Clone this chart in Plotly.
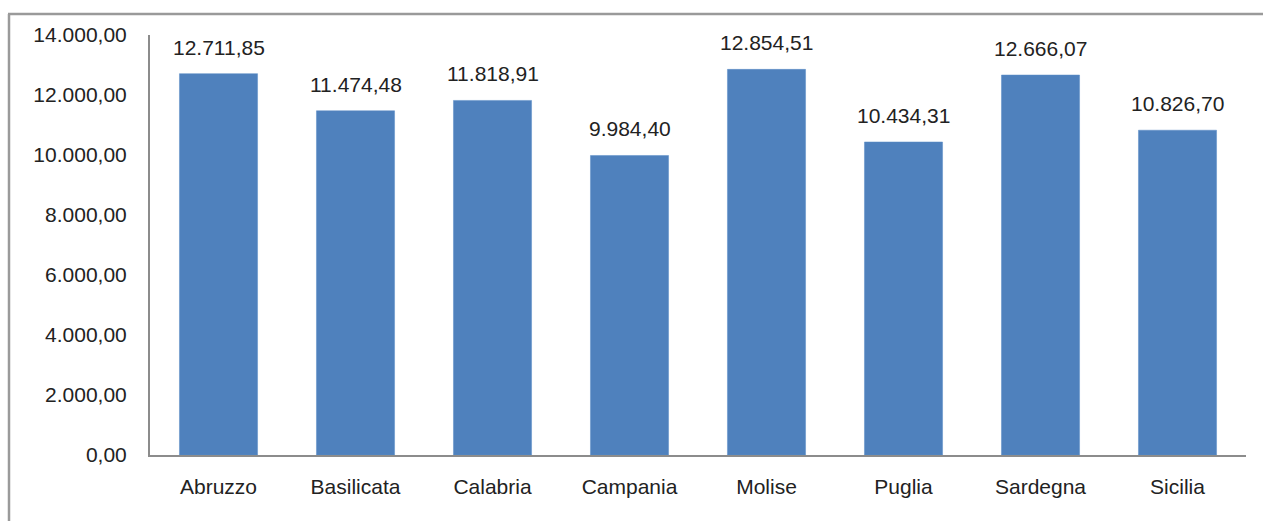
import plotly.graph_objects as go

regions = ["Abruzzo", "Basilicata", "Calabria", "Campania", "Molise", "Puglia", "Sardegna", "Sicilia"]
values = [12711.85, 11474.48, 11818.91, 9984.40, 12854.51, 10434.31, 12666.07, 10826.70]
y_ticks = [0, 2000, 4000, 6000, 8000, 10000, 12000, 14000]

FONT = "Liberation Sans"
SIZE = 21
TEXT = "#222222"
AXIS = "#8c8c8c"


def it_fmt(v):
    # Italian number style: dot for thousands, comma for decimals
    s = f"{v:,.2f}"
    return s.replace(",", "X").replace(".", ",").replace("X", ".")


fig = go.Figure(
    go.Bar(
        x=regions,
        y=values,
        marker=dict(color="#4F81BD", line=dict(color="#5b8cc6", width=0.5)),
        hoverinfo="x+y",
    )
)

for r, v in zip(regions, values):
    fig.add_annotation(
        x=r, y=v, text=it_fmt(v), showarrow=False,
        yanchor="bottom", yshift=13,
        font=dict(family=FONT, size=SIZE, color=TEXT),
    )

W, H = 1263, 521
ml, mr, mt, mb = 150, 17, 35, 66
pw, ph = W - ml - mr, H - mt - mb


def px_x(x):
    return (x - ml) / pw


def px_y(y):
    return (H - mb - y) / ph


fig.update_layout(
    width=W,
    height=H,
    margin=dict(l=ml, r=mr, t=mt, b=mb, pad=0),
    paper_bgcolor="white",
    plot_bgcolor="white",
    separators=",.",
    bargap=0.43,
    showlegend=False,
    font=dict(family=FONT, size=SIZE, color=TEXT),
    xaxis=dict(
        showline=True,
        linecolor=AXIS,
        linewidth=2,
        showgrid=False,
        ticks="",
        ticklabelstandoff=12,
        tickfont=dict(family=FONT, size=SIZE, color=TEXT),
    ),
    yaxis=dict(
        range=[0, 14000],
        tickvals=y_ticks,
        tickformat=",.2f",
        showline=True,
        linecolor=AXIS,
        linewidth=2,
        showgrid=False,
        zeroline=False,
        ticks="",
        ticklabelstandoff=17,
        tickfont=dict(family=FONT, size=SIZE, color=TEXT),
    ),
    shapes=[
        dict(type="line", xref="paper", yref="paper",
             x0=px_x(8), x1=px_x(W + 5), y0=px_y(14), y1=px_y(14),
             line=dict(color="#9a9a9a", width=2.5)),
        dict(type="line", xref="paper", yref="paper",
             x0=px_x(9), x1=px_x(9), y0=px_y(14), y1=px_y(H + 5),
             line=dict(color="#9a9a9a", width=2.5)),
    ],
)

fig.write_html("out.html")
